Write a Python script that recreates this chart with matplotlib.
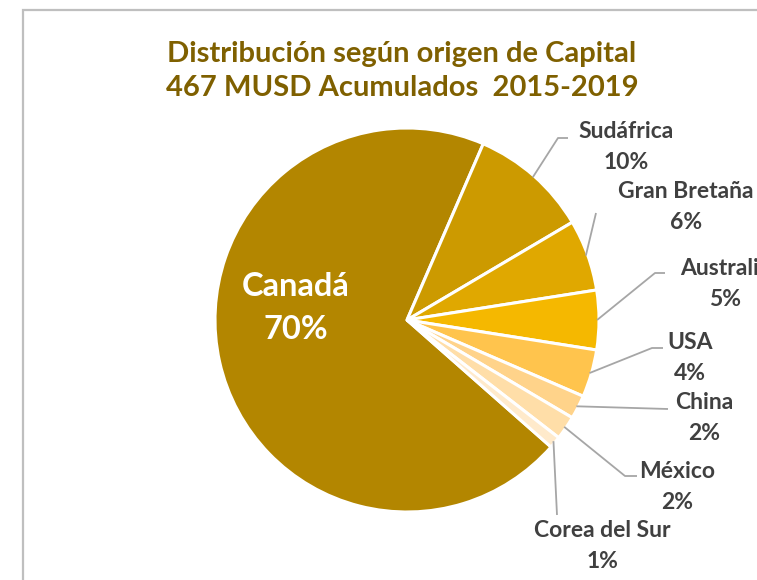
import matplotlib
matplotlib.use("Agg")
import matplotlib.pyplot as plt, numpy as np
from matplotlib.patches import Rectangle

plt.rcParams['font.family'] = ['Lato', 'DejaVu Sans']

# capital origin shares, 2015-2019
countries = ["Canadá", "Sudáfrica", "Gran Bretaña", "Australia", "USA", "China", "México", "Corea del Sur"]
shares = [70, 10, 6, 5, 4, 2, 2, 1]
colors = ["#B38600", "#CC9A00", "#E0A800", "#F5B800", "#FFC44D", "#FFD38A", "#FFDEA8", "#FFEACB"]

title = "Distribución según origen de Capital\n467 MUSD Acumulados  2015-2019"

W, H = 757, 580
fig = plt.figure(figsize=(W / 100, H / 100), dpi=100)
ax = fig.add_axes([0, 0, 1, 1])

cx, cy, r = 407, H - 320, 192
start = 90 - 131.4  # first slice ends where the last one begins

wedges, _ = ax.pie(shares, colors=colors, startangle=start, counterclock=False,
                   center=(cx, cy), radius=r, frame=True,
                   wedgeprops=dict(edgecolor='white', linewidth=2.2))
ax.set_xlim(0, W)
ax.set_ylim(0, H)
ax.set_aspect('equal')
ax.axis('off')

# label text position and leader elbow/end, in pixels from top-left
label_pos = [(296, 308), (626, 147), (686, 207), (725, 284), (690, 358), (704, 418), (677, 487), (602, 546)]
leader = [None,
          [(558, 138), (568, 138)],
          [(596, 213)],
          [(655, 273), (665, 273)],
          [(652, 348), (663, 348)],
          [(668, 409)],
          [(625, 476), (637, 476)],
          [(557, 515)]]

total = sum(shares)
for i, (w, name, val) in enumerate(zip(wedges, countries, shares)):
    pct = f"{round(100 * val / total)}%"
    lx, ly = label_pos[i]
    if i == 0:
        ax.text(lx, H - ly, f"{name}\n{pct}", color='white', fontsize=23.5,
                fontweight='bold', ha='center', va='center', linespacing=1.6)
        continue
    mid = np.deg2rad((w.theta1 + w.theta2) / 2)
    x0 = cx + r * 0.99 * np.cos(mid)
    y0 = cy + r * 0.99 * np.sin(mid)
    xs = [x0] + [p[0] for p in leader[i]]
    ys = [y0] + [H - p[1] for p in leader[i]]
    ax.plot(xs, ys, color='#A6A6A6', lw=1.3, solid_capstyle='butt')
    ax.text(lx, H - ly, f"{name}\n{pct}", color='#404040', fontsize=16.5,
            fontweight='bold', ha='center', va='center', linespacing=1.55)

ax.text(402, H - 71, title, color='#7F6000', fontsize=21, fontweight='bold',
        ha='center', va='center', linespacing=1.35)

# chart area border, running off the right and bottom edges
fig.patches.append(Rectangle((23 / W, -0.1), 1.2, (H - 10) / H + 0.1,
                             transform=fig.transFigure, fill=False,
                             edgecolor='#BFBFBF', lw=1.6))

fig.savefig("out.png", dpi=100)
